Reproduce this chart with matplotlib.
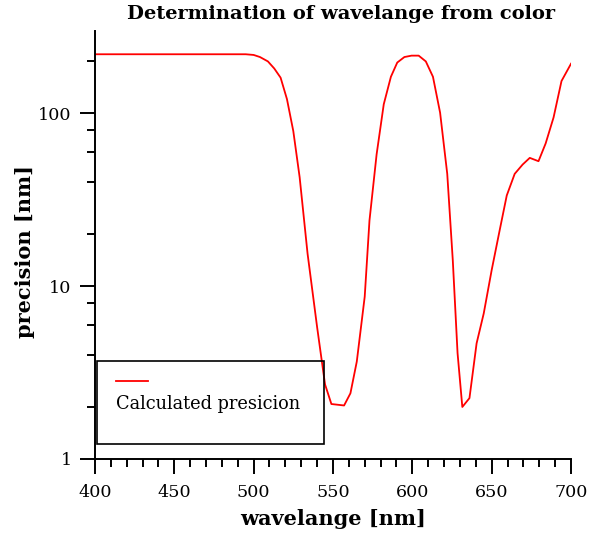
import numpy as np
import matplotlib
matplotlib.use('Agg')
import matplotlib.pyplot as plt
from matplotlib.patches import Rectangle
from matplotlib.ticker import LogLocator, MultipleLocator, NullFormatter, FixedLocator

# data
wavelength = [400, 420, 440, 460, 480, 495, 500, 504, 509, 513, 517, 521, 525, 529,
              534, 540, 545, 549, 557, 561, 565, 570, 573, 577.5, 582, 586.5, 590.5,
              595, 599.5, 604, 608.5, 613, 617.5, 622, 625.5, 628.5, 631.5, 636, 640.5,
              645, 650, 655, 659.5, 664.5, 669.5, 674, 679.5, 684, 689, 694, 700]
precision = [220, 220, 220, 220, 220, 220, 218, 212, 200, 182, 161, 121, 79, 42.7,
             15.4, 5.8, 2.7, 2.08, 2.04, 2.4, 3.66, 8.7, 24, 58, 113, 163, 197,
             212, 216, 216, 200, 163, 101, 44.7, 14.1, 4.1, 2.0, 2.25, 4.67,
             6.96, 12.4, 21, 33.5, 44.7, 50.6, 55.3, 52.9, 67, 94.8, 154, 194]

x_ticks = [400, 450, 500, 550, 600, 650, 700]
y_ticks = [1, 10, 100]
y_tick_labels = ['1', '10', '100']

plt.rcParams['font.family'] = 'DejaVu Serif'

fig = plt.figure(figsize=(5.97, 5.37), dpi=100)
ax = fig.add_axes([0.159, 0.1453, 0.7975, 0.797])

ax.plot(wavelength, precision, color='red', lw=1.3)

ax.set_yscale('log')
ax.set_xlim(400, 700)
ax.set_ylim(1, 300)

ax.xaxis.set_major_locator(FixedLocator(x_ticks))
ax.xaxis.set_minor_locator(MultipleLocator(10))
ax.yaxis.set_major_locator(FixedLocator(y_ticks))
ax.set_yticklabels(y_tick_labels)
ax.yaxis.set_minor_locator(LogLocator(base=10, subs=(2, 4, 6, 8)))
ax.yaxis.set_minor_formatter(NullFormatter())

for s in ['top', 'right']:
    ax.spines[s].set_visible(False)
for s in ['left', 'bottom']:
    ax.spines[s].set_linewidth(1.4)
ax.tick_params(which='major', length=10.8, width=1.4, labelsize=12.6, pad=6)
ax.tick_params(axis='x', which='major', pad=7)
ax.tick_params(which='minor', length=5.8, width=1.4)

ax.text(0.517, 1.04, 'Determination of wavelange from color', transform=ax.transAxes,
        fontsize=14, fontweight='bold', ha='center', va='center')
ax.set_xlabel('wavelange [nm]', fontsize=15, fontweight='bold', va='center')
ax.xaxis.set_label_coords(0.5, -0.14)
ax.set_ylabel('precision [nm]', fontsize=15, fontweight='bold', va='center')
ax.yaxis.set_label_coords(-0.147, 0.485)

# legend box drawn the way the original program does it: line above the text
ax.add_patch(Rectangle((0.004, 0.035), 0.477, 0.194, transform=ax.transAxes,
                       fill=False, edgecolor='black', lw=1.2, zorder=5))
ax.plot([0.044, 0.111], [0.182, 0.182], transform=ax.transAxes, color='red', lw=1.3)
ax.text(0.044, 0.128, 'Calculated presicion', transform=ax.transAxes,
        fontsize=12.8, va='center', ha='left')

fig.savefig('out.png', dpi=100)
